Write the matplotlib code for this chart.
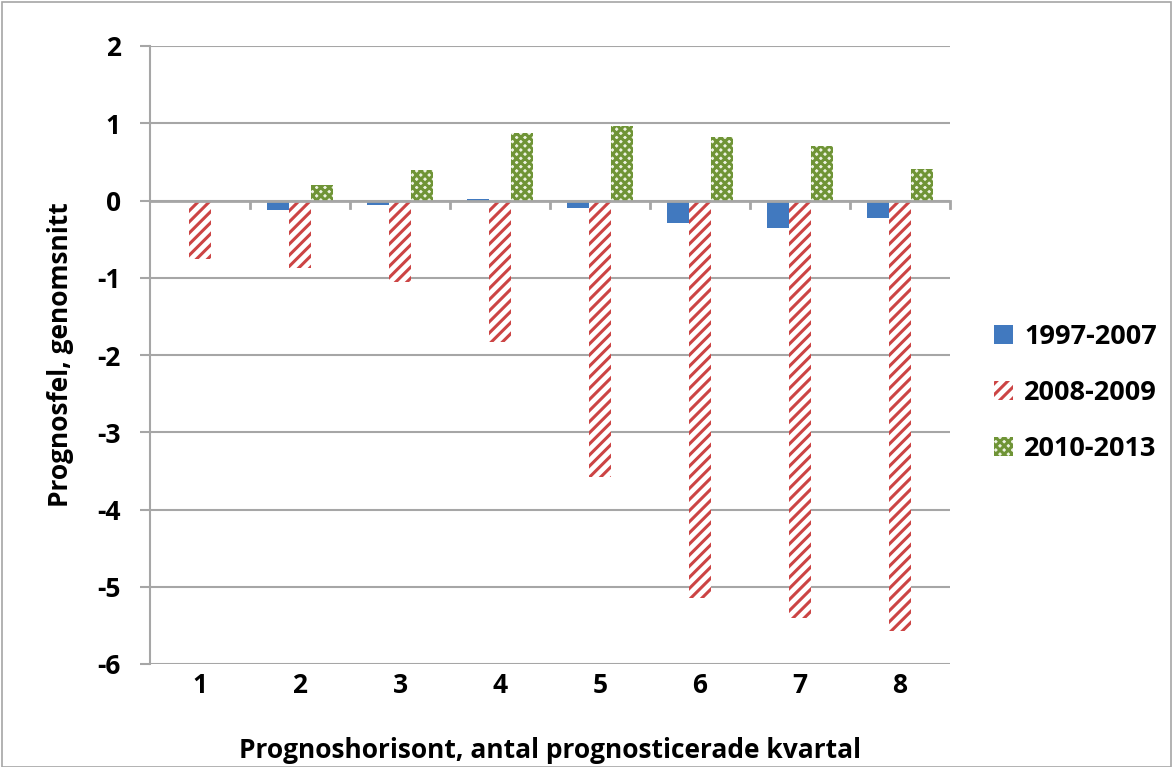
import matplotlib.pyplot as plt
import matplotlib.patches as mpatches
import numpy as np

plt.rcParams['font.family'] = ['Open Sans', 'DejaVu Sans']
plt.rcParams['font.weight'] = 'bold'
plt.rcParams['hatch.linewidth'] = 2.2

# data
horizons = ['1', '2', '3', '4', '5', '6', '7', '8']
seriesNames = ['1997-2007', '2008-2009', '2010-2013']
vals1997 = [0.0, -0.12, -0.06, 0.02, -0.10, -0.29, -0.35, -0.23]
vals2008 = [-0.76, -0.88, -1.05, -1.83, -3.58, -5.15, -5.41, -5.57]
vals2010 = [0.0, 0.20, 0.40, 0.87, 0.97, 0.82, 0.70, 0.41]
yTicks = [2, 1, 0, -1, -2, -3, -4, -5, -6]

fig = plt.figure(figsize=(11.73, 7.67), dpi=100)
ax = fig.add_axes([150/1173, 1-664/767, 800/1173, 618/767])

#grey border round the chart
fig.patches.append(mpatches.Rectangle((0.002, 0.0), 0.996, 0.998, transform=fig.transFigure,
                                      fill=False, edgecolor='#a6a6a6', linewidth=1.2))

x = np.arange(len(horizons))
w = 0.22
ax.bar(x - w, vals1997, w, color='#4179bf', edgecolor='#4179bf', linewidth=0, label=seriesNames[0])
ax.bar(x, vals2008, w, color='white', edgecolor='#cc4444', hatch='///', linewidth=0, label=seriesNames[1])
ax.bar(x + w, vals2010, w, color='#eef3e4', edgecolor='#6f9436', hatch='xxxx', linewidth=0, label=seriesNames[2])

#axes and grid
ax.set_xlim(-0.5, len(horizons) - 0.5)
ax.set_ylim(-6, 2)
ax.set_yticks(yTicks)
ax.set_yticklabels([str(t) for t in yTicks])
ax.yaxis.grid(True, color='#a6a6a6', linewidth=1.5)
ax.set_axisbelow(True)
for s in ['top', 'right', 'bottom']:
    ax.spines[s].set_visible(False)
ax.spines['left'].set_color('#a6a6a6')
ax.spines['left'].set_linewidth(1.5)
ax.axhline(0, color='#a6a6a6', linewidth=2, zorder=1)
ax.tick_params(axis='y', length=7, width=1.5, color='#a6a6a6', labelsize=19, pad=14)

#category ticks on the zero line
ax.set_xticks(x)
ax.set_xticklabels(horizons, fontsize=19)
ax.tick_params(axis='x', length=0, pad=6)
for b in np.arange(0.5, len(horizons), 1):
    ax.plot([b, b], [0, -0.1], color='#a6a6a6', linewidth=2, clip_on=False, zorder=1)

#labels
ax.set_ylabel('Prognosfel, genomsnitt', fontsize=19, fontweight='bold', labelpad=17)
ax.set_xlabel('Prognoshorisont, antal prognosticerade kvartal', fontsize=19, fontweight='bold', labelpad=27)

ax.legend(loc='center left', bbox_to_anchor=(1.025, 0.4385), frameon=False, fontsize=19.5,
          handlelength=0.7, handleheight=0.7, handletextpad=0.4, labelspacing=1.1)

plt.savefig('out.png', dpi=100)
